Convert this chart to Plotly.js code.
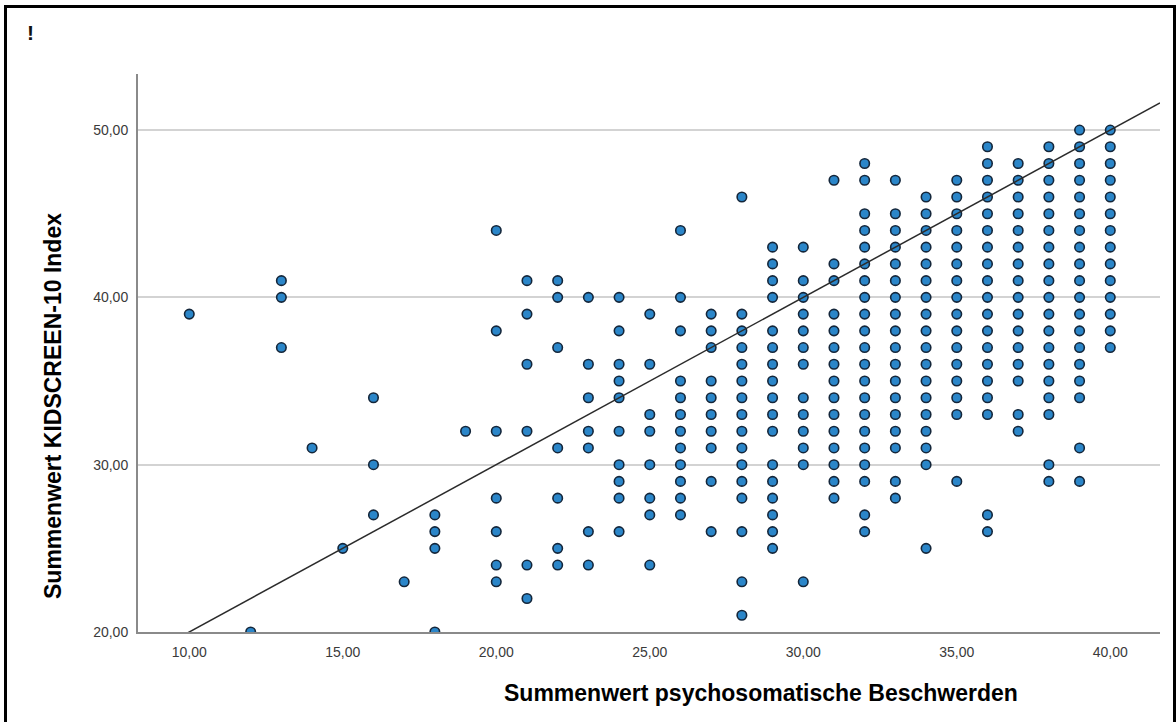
<!DOCTYPE html>
<html>
<head>
<meta charset="utf-8">
<script src="https://cdn.plot.ly/plotly-3.0.1.min.js"></script>
<style>
  html, body { margin: 0; padding: 0; background: #ffffff; }
  #chart { width: 1176px; height: 722px; position: relative; }
  #frame { position: absolute; left: 4px; top: 5px; width: 1166px; height: 722px;
           border-left: 3px solid #000; border-top: 3px solid #000; border-right: 3px solid #000;
           pointer-events: none; box-sizing: content-box; }
</style>
</head>
<body>
<div id="chart"></div>
<div id="frame"></div>
<script>
// x: Summenwert psychosomatische Beschwerden, y: Summenwert KIDSCREEN-10 Index
const psychoScores = [10, 12, 13, 14, 15, 16, 17, 18, 19, 20, 21, 22, 23, 24, 25, 26, 27, 28, 29, 30, 31, 32, 33, 34, 35, 36, 37, 38, 39, 40];
const kidscreenValues = [
  [39],
  [20],
  [41, 40, 37],
  [31],
  [25],
  [34, 30, 27],
  [23],
  [27, 26, 25, 20],
  [32],
  [44, 38, 32, 28, 26, 24, 23],
  [41, 39, 36, 32, 24, 22],
  [41, 40, 37, 31, 28, 25, 24],
  [40, 36, 34, 32, 31, 26, 24],
  [40, 38, 36, 35, 34, 32, 30, 29, 28, 26],
  [39, 36, 33, 32, 30, 28, 27, 24],
  [44, 40, 38, 35, 34, 33, 32, 31, 30, 29, 28, 27],
  [39, 38, 37, 35, 34, 33, 32, 31, 29, 26],
  [46, 39, 38, 37, 36, 35, 34, 33, 32, 31, 30, 29, 28, 26, 23, 21],
  [43, 42, 41, 40, 38, 37, 36, 35, 34, 33, 32, 30, 29, 28, 27, 26, 25],
  [43, 41, 40, 39, 38, 37, 36, 34, 33, 32, 31, 30, 23],
  [47, 42, 41, 39, 38, 37, 36, 35, 34, 33, 32, 31, 30, 29, 28],
  [48, 47, 45, 44, 43, 42, 41, 40, 39, 38, 37, 36, 35, 34, 33, 32, 31, 30, 29, 27, 26],
  [47, 45, 44, 43, 42, 41, 40, 39, 38, 37, 36, 35, 34, 33, 32, 31, 29, 28],
  [46, 45, 44, 43, 42, 41, 40, 39, 38, 37, 36, 35, 34, 33, 32, 31, 30, 25],
  [47, 46, 45, 44, 43, 42, 41, 40, 39, 38, 37, 36, 35, 34, 33, 29],
  [49, 48, 47, 46, 45, 44, 43, 42, 41, 40, 39, 38, 37, 36, 35, 34, 33, 27, 26],
  [48, 47, 46, 45, 44, 43, 42, 41, 40, 39, 38, 37, 36, 35, 33, 32],
  [49, 48, 47, 46, 45, 44, 43, 42, 41, 40, 39, 38, 37, 36, 35, 34, 33, 30, 29],
  [50, 49, 48, 47, 46, 45, 44, 43, 42, 41, 40, 39, 38, 37, 36, 35, 34, 31, 29],
  [50, 49, 48, 47, 46, 45, 44, 43, 42, 41, 40, 39, 38, 37]
];
// Fit line: y = intercept + slope * x
const fitIntercept = 10.0;
const fitSlope = 1.0;
const xTickValues = [10, 15, 20, 25, 30, 35, 40];
const yTickValues = [20, 30, 40, 50];
const xAxisTitle = "Summenwert psychosomatische Beschwerden";
const yAxisTitle = "Summenwert KIDSCREEN-10 Index";

const xRange = [8.33, 41.62];
const yRange = [20, 53.35];

const px = [], py = [];
psychoScores.forEach((x, i) => {
  kidscreenValues[i].forEach(y => { px.push(x); py.push(y); });
});

const fitX = [xRange[0], xRange[1]];
const fitY = fitX.map(x => fitIntercept + fitSlope * x);

const traces = [
  {
    type: 'scatter', mode: 'markers', x: px, y: py,
    marker: { size: 9.5, color: '#2b86c9', line: { color: '#14263a', width: 1.6 } },
    hoverinfo: 'x+y', showlegend: false
  },
  {
    type: 'scatter', mode: 'lines', x: fitX, y: fitY,
    line: { color: '#2b2b2b', width: 1.5 }, hoverinfo: 'skip', showlegend: false
  }
];

const tickFont = { family: 'Arial, "Liberation Sans", sans-serif', size: 14, color: '#3a3a3a' };
const titleFont = { family: 'Arial, "Liberation Sans", sans-serif', size: 23, color: '#000000' };

const layout = {
  width: 1176, height: 722,
  margin: { l: 138, r: 16, t: 74, b: 90, pad: 0 },
  paper_bgcolor: '#ffffff', plot_bgcolor: '#ffffff',
  separators: ',.',
  showlegend: false,
  xaxis: {
    range: xRange, tickvals: xTickValues, tickformat: '.2f',
    showgrid: false, zeroline: false,
    showline: true, linecolor: '#8a8a8a', linewidth: 2,
    ticks: '', tickfont: tickFont, ticklabelstandoff: 6
  },
  yaxis: {
    range: yRange, tickvals: yTickValues, tickformat: '.2f',
    showgrid: true, gridcolor: '#d3d3d3', gridwidth: 2, zeroline: false,
    showline: true, linecolor: '#8a8a8a', linewidth: 2,
    ticks: '', tickfont: tickFont, ticklabelstandoff: 5
  },
  annotations: [
    {
      text: '<b>' + xAxisTitle + '</b>', xref: 'paper', yref: 'paper',
      x: (502 - 138) / 1022, y: -(693 - 632) / 558, xanchor: 'left', yanchor: 'middle',
      showarrow: false, font: titleFont
    },
    {
      text: '<b>' + yAxisTitle + '</b>', xref: 'paper', yref: 'paper',
      x: (53 - 138) / 1022, y: (632 - 406) / 558, xanchor: 'center', yanchor: 'middle',
      textangle: -90, showarrow: false, font: titleFont
    },
    {
      text: '<b>!</b>', xref: 'paper', yref: 'paper',
      x: (30 - 138) / 1022, y: (632 - 33) / 558, xanchor: 'center', yanchor: 'middle',
      showarrow: false, font: { family: 'Arial, "Liberation Sans", sans-serif', size: 21, color: '#111111' }
    }
  ]
};

Plotly.newPlot('chart', traces, layout, { displayModeBar: false, staticPlot: true });
</script>
</body>
</html>
